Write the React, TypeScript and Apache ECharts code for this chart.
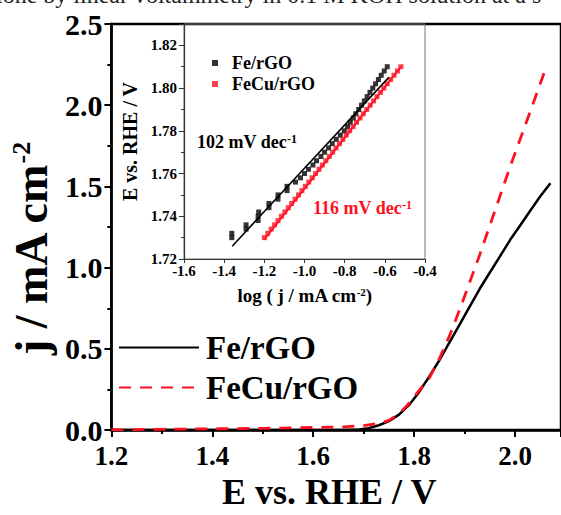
import React, { useEffect, useRef } from "react";
import * as echarts from "echarts";

// Main LSV curves (E vs. RHE / V, j / mA cm^-2)
const FE_E = [1.2, 1.3, 1.4, 1.5, 1.6, 1.66, 1.69, 1.71, 1.73, 1.75, 1.77, 1.79, 1.81, 1.83, 1.85, 1.87, 1.89, 1.91, 1.93, 1.95, 1.97, 1.99, 2.01, 2.03, 2.05, 2.07];
const FE_J = [0, 0, 0, 0, 0, 0.001, 0.004, 0.012, 0.03, 0.055, 0.095, 0.155, 0.235, 0.33, 0.43, 0.54, 0.65, 0.76, 0.87, 0.97, 1.07, 1.17, 1.26, 1.35, 1.44, 1.52];
const CU_E = [1.2, 1.3, 1.4, 1.5, 1.6, 1.66, 1.7, 1.73, 1.75, 1.77, 1.79, 1.81, 1.83, 1.85, 1.87, 1.89, 1.91, 1.93, 1.95, 1.97, 1.99, 2.01, 2.03, 2.06];
const CU_J = [0.002, 0.005, 0.008, 0.011, 0.016, 0.02, 0.028, 0.042, 0.06, 0.1, 0.165, 0.245, 0.32, 0.44, 0.58, 0.74, 0.91, 1.08, 1.26, 1.44, 1.62, 1.79, 1.96, 2.22];

// Inset Tafel data (log j, E)
const FE_TAFEL_LOGJ = [-1.362, -1.362, -1.291, -1.291, -1.231, -1.231, -1.228, -1.177, -1.177, -1.132, -1.132, -1.087, -1.087, -1.045, -1.02, -1.0, -0.98, -0.958, -0.94, -0.918, -0.9, -0.88, -0.862, -0.842, -0.822, -0.802, -0.786, -0.772, -0.757, -0.744, -0.73, -0.716, -0.702, -0.688, -0.674, -0.66, -0.646, -0.632, -0.618, -0.603, -0.588];
const FE_TAFEL_E = [1.73, 1.732, 1.734, 1.736, 1.738, 1.74, 1.742, 1.744, 1.746, 1.748, 1.75, 1.752, 1.754, 1.756, 1.758, 1.76, 1.762, 1.764, 1.766, 1.768, 1.77, 1.772, 1.774, 1.776, 1.778, 1.78, 1.782, 1.784, 1.786, 1.788, 1.79, 1.792, 1.794, 1.796, 1.798, 1.8, 1.802, 1.804, 1.806, 1.808, 1.81];
const CU_TAFEL_LOGJ = [-1.2, -1.183, -1.166, -1.149, -1.132, -1.115, -1.098, -1.081, -1.064, -1.047, -1.03, -1.013, -0.996, -0.979, -0.962, -0.945, -0.928, -0.911, -0.894, -0.877, -0.86, -0.843, -0.826, -0.809, -0.792, -0.775, -0.758, -0.741, -0.724, -0.707, -0.69, -0.673, -0.656, -0.639, -0.622, -0.605, -0.588, -0.571, -0.554, -0.537, -0.52];
const CU_TAFEL_E = [1.73, 1.732, 1.734, 1.736, 1.738, 1.74, 1.742, 1.744, 1.746, 1.748, 1.75, 1.752, 1.754, 1.756, 1.758, 1.76, 1.762, 1.764, 1.766, 1.768, 1.77, 1.772, 1.774, 1.776, 1.778, 1.78, 1.782, 1.784, 1.786, 1.788, 1.79, 1.792, 1.794, 1.796, 1.798, 1.8, 1.802, 1.804, 1.806, 1.808, 1.81];
const FE_FIT_LOGJ = [-1.36, -0.58];
const FE_FIT_E = [1.726, 1.805];
const CU_FIT_LOGJ = [-1.2, -0.52];
const CU_FIT_E = [1.729, 1.81];

const NAMES = ["Fe/rGO", "FeCu/rGO"];
const INSET_NAMES = ["Fe/rGO Tafel", "FeCu/rGO Tafel"];
const SLOPE_LABELS = ["102 mV dec", "116 mV dec"];
const CAPTION = "ione by linear voltammetry in 0.1 M KOH solution at a s";

const FONT = "'Liberation Serif', 'Times New Roman', serif";
const RED = "#ff1020";

const zip = (a: number[], b: number[]) => a.map((v, i) => [v, b[i]]);
const isMult = (v: number, step: number) => Math.abs(v / step - Math.round(v / step)) < 1e-6;

export default function App() {
  const ref = useRef<HTMLDivElement>(null);
  useEffect(() => {
    if (!ref.current) return;
    const chart = echarts.init(ref.current, null, { renderer: "svg" });
    const bold = (size: number, color = "#000") => ({ fontFamily: FONT, fontWeight: "bold" as const, fontSize: size, color });
    chart.setOption({
      animation: false,
      backgroundColor: "#fff",
      grid: [
        { left: 105, top: 24, right: -3, bottom: 81, show: true, borderColor: "#000", borderWidth: 2.5, backgroundColor: "transparent" },
        { left: 184, top: 24, right: 136, bottom: 256, show: true, borderColor: "#777", borderWidth: 1, backgroundColor: "transparent" },
      ],
      xAxis: [
        {
          type: "value", gridIndex: 0, min: 1.2, max: 2.091, interval: 0.2,
          name: "E vs. RHE / V", nameLocation: "middle", nameGap: 34,
          nameTextStyle: { ...bold(36), padding: [0, 14, 0, 0] },
          axisLine: { lineStyle: { color: "#000", width: 2.5 } },
          axisTick: { show: true, inside: false, length: 7, lineStyle: { width: 2, color: "#000" } },
          minorTick: { show: true, splitNumber: 2, length: 4, lineStyle: { width: 2, color: "#000" } },
          splitLine: { show: false },
          axisLabel: { ...bold(27), margin: 12, showMaxLabel: false, formatter: (v: number) => (isMult(v, 0.2) ? v.toFixed(1) : "") },
        },
        {
          type: "value", gridIndex: 1, min: -1.6, max: -0.4, interval: 0.2,
          name: "{a|log ( j / mA cm}{s|-2}{a|)}", nameLocation: "middle", nameGap: 27,
          nameTextStyle: { ...bold(19), rich: { a: bold(19), s: { ...bold(11), verticalAlign: "top" } } },
          axisLine: { lineStyle: { color: "#333", width: 1.2 } },
          axisTick: { show: true, inside: false, length: 4, lineStyle: { color: "#333" } },
          splitLine: { show: false },
          axisLabel: { ...bold(15), margin: 4, formatter: (v: number) => v.toFixed(1) },
        },
      ],
      yAxis: [
        {
          type: "value", gridIndex: 0, min: 0, max: 2.5, interval: 0.5,
          name: "{a|j / mA cm}{s|-2}", nameLocation: "middle", nameGap: 53,
          nameTextStyle: { ...bold(46), padding: [0, 44, 0, 0], rich: { a: bold(46), s: { ...bold(26), verticalAlign: "top" } } },
          axisLine: { lineStyle: { color: "#000", width: 2.5 } },
          axisTick: { show: true, inside: false, length: 7, lineStyle: { width: 2, color: "#000" } },
          minorTick: { show: true, splitNumber: 2, length: 4, lineStyle: { width: 2, color: "#000" } },
          splitLine: { show: false },
          axisLabel: { ...bold(30), margin: 9, formatter: (v: number) => v.toFixed(1) },
        },
        {
          type: "value", gridIndex: 1, min: 1.72, max: 1.83, interval: 0.02,
          name: "E vs. RHE / V", nameLocation: "middle", nameGap: 44,
          nameTextStyle: { ...bold(20) },
          axisLine: { lineStyle: { color: "#333", width: 1.2 } },
          axisTick: { show: true, inside: false, length: 5, lineStyle: { color: "#333" } },
          minorTick: { show: true, splitNumber: 2, length: 3, lineStyle: { color: "#333" } },
          splitLine: { show: false },
          axisLabel: { ...bold(15), margin: 7, formatter: (v: number) => (isMult(v, 0.02) ? v.toFixed(2) : "") },
        },
      ],
      legend: [
        {
          data: NAMES, orient: "vertical", left: 113, top: 326, itemWidth: 80, itemHeight: 14, itemGap: 7,
          itemStyle: { opacity: 0 },
          textStyle: { ...bold(33), padding: [0, 0, 0, 2] },
          selectedMode: false,
        },
        {
          data: INSET_NAMES, orient: "vertical", left: 207, top: 49, itemWidth: 6, itemHeight: 6, itemGap: 3,
          icon: "rect",
          formatter: (n: string) => n.replace(" Tafel", ""),
          textStyle: { ...bold(18), padding: [0, 0, 0, 9] },
          selectedMode: false,
        },
      ],
      series: [
        {
          name: NAMES[0], type: "line", xAxisIndex: 0, yAxisIndex: 0, data: zip(FE_E, FE_J),
          symbol: "none", showSymbol: false, smooth: false,
          lineStyle: { color: "#000", width: 2.5 }, itemStyle: { color: "#000" },
        },
        {
          name: NAMES[1], type: "line", xAxisIndex: 0, yAxisIndex: 0, data: zip(CU_E, CU_J),
          symbol: "none", showSymbol: false, smooth: false,
          lineStyle: { color: RED, width: 2.8, type: [12, 9] }, itemStyle: { color: RED },
        },
        {
          name: INSET_NAMES[0], type: "scatter", xAxisIndex: 1, yAxisIndex: 1, data: zip(FE_TAFEL_LOGJ, FE_TAFEL_E),
          symbol: "rect", symbolSize: 5, itemStyle: { color: "#000" },
        },
        {
          name: INSET_NAMES[1], type: "scatter", xAxisIndex: 1, yAxisIndex: 1, data: zip(CU_TAFEL_LOGJ, CU_TAFEL_E),
          symbol: "rect", symbolSize: 5, itemStyle: { color: RED },
        },
        {
          name: "Fe fit", type: "line", xAxisIndex: 1, yAxisIndex: 1, data: zip(FE_FIT_LOGJ, FE_FIT_E),
          symbol: "none", lineStyle: { color: "#000", width: 1.6 },
        },
        {
          name: "FeCu fit", type: "line", xAxisIndex: 1, yAxisIndex: 1, data: zip(CU_FIT_LOGJ, CU_FIT_E),
          symbol: "none", lineStyle: { color: RED, width: 1.6 },
        },
      ],
      graphic: [
        {
          type: "text", left: -4, top: -17,
          style: { text: CAPTION, fontFamily: FONT, fontSize: 24, fill: "#222" },
        },
        {
          type: "text", x: 197, y: 142,
          style: {
            text: `{a|${SLOPE_LABELS[0]}}{s|-1}`, verticalAlign: "middle",
            rich: { a: { ...bold(18), fill: "#000" } as any, s: { ...bold(12), fill: "#000", verticalAlign: "top" } as any },
            fill: "#000",
          },
        },
        {
          type: "text", x: 313, y: 208,
          style: {
            text: `{a|${SLOPE_LABELS[1]}}{s|-1}`, verticalAlign: "middle",
            rich: { a: { ...bold(18), fill: RED } as any, s: { ...bold(12), fill: RED, verticalAlign: "top" } as any },
            fill: RED,
          },
        },
      ],
    });
    return () => chart.dispose();
  }, []);
  return <div ref={ref} style={{ width: 561, height: 515, position: "absolute", left: 0, top: 0 }} />;
}
